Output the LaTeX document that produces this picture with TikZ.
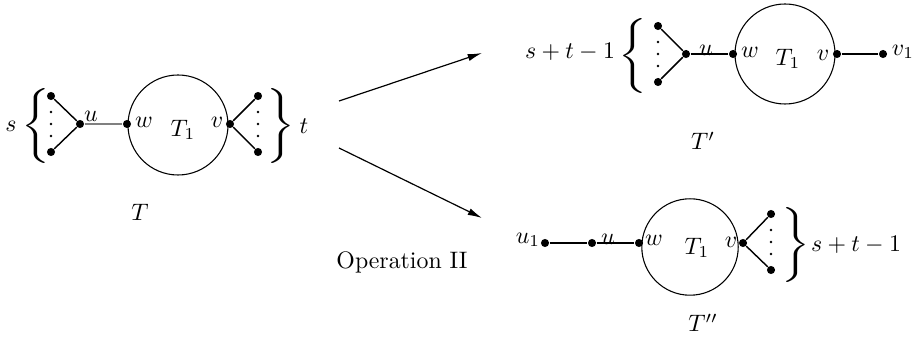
\documentclass[tikz,border=0pt]{standalone}
\usetikzlibrary{arrows.meta}
\newcommand{\lbrc}{\scalebox{1.5}[1.05]{$\Bigg\{$}}
\newcommand{\rbrc}{\scalebox{1.5}[1.05]{$\Bigg\}$}}
\begin{document}
\begin{tikzpicture}[x=0.42pt,y=-0.42pt,
  dot/.style={circle,fill=black,inner sep=0pt,minimum size=3.4pt},
  sdot/.style={circle,fill=black,inner sep=0pt,minimum size=1.2pt},
  lab/.style={inner sep=0pt},
  bigc/.style={draw,circle,inner sep=0pt,minimum size=42pt,line width=0.45pt},
  edge/.style={line width=0.6pt},
  arr/.style={line width=0.5pt,-{Latex[length=6pt,width=3pt]}}]
\useasboundingbox (0,0) rectangle (914,341);
% ---- T ----
\node[bigc] (c1) at (178,125) {};
\node[dot] (a1) at (51,96) {};
\node[dot] (a2) at (51,152) {};
\node[dot] (u) at (80,124) {};
\node[dot] (w) at (127,124) {};
\node[dot] (v) at (230,124) {};
\node[dot] (b1) at (258,96) {};
\node[dot] (b2) at (258,152) {};
\node[sdot] (d1) at (51,112) {};
\node[sdot] (d2) at (51,124) {};
\node[sdot] (d3) at (51,136) {};
\node[sdot] (e1) at (258,112) {};
\node[sdot] (e2) at (258,124) {};
\node[sdot] (e3) at (258,136) {};
\draw[edge] (a1) -- (u) -- (a2);
\draw[edge,gray] (u) -- (w);
\draw[edge] (b1) -- (v) -- (b2);
\node[lab] (bl) at (36,126) {\lbrc};
\node[lab] (sl) at (11,126) {$s$};
\node[lab] (br) at (281,126) {\rbrc};
\node[lab] (tl) at (304,126) {$t$};
\node[lab] (ul) at (91,116) {$u$};
\node[lab] (wl) at (144,122) {$w$};
\node[lab] (T1) at (183,130) {$T_1$};
\node[lab] (vl) at (217,122) {$v$};
\node[lab] (T) at (140,212) {$T$};
% ---- arrows ----
\coordinate (s1) at (339,101);
\coordinate (t1) at (482,53);
\coordinate (s2) at (339,148);
\coordinate (t2) at (482,218);
\draw[arr] (s1) -- (t1);
\draw[arr] (s2) -- (t2);
\node[lab] (op) at (402,262) {Operation II};
% ---- T' ----
\node[bigc] (c2) at (785,54) {};
\node[dot] (p1) at (658,26) {};
\node[dot] (p2) at (658,82) {};
\node[dot] (pu) at (686,54) {};
\node[dot] (pw) at (733,54) {};
\node[dot] (pv) at (837,54) {};
\node[dot] (pv1) at (883,54) {};
\node[sdot] (f1) at (658,42) {};
\node[sdot] (f2) at (658,54) {};
\node[sdot] (f3) at (658,66) {};
\draw[edge] (p1) -- (pu) -- (p2);
\draw[edge] (pu) -- (pw);
\draw[edge] (pv) -- (pv1);
\node[lab] (pbl) at (633,56) {\lbrc};
\node[lab] (pst) at (570,52) {$s+t-1$};
\node[lab] (pul) at (706,50) {$u$};
\node[lab] (pwl) at (750,52) {$w$};
\node[lab] (pT1) at (788,59) {$T_1$};
\node[lab] (pvl) at (823,55) {$v$};
\node[lab] (pv1l) at (903,52) {$v_1$};
\node[lab] (Tp) at (703,141) {$T'$};
% ---- T'' ----
\node[bigc,minimum size=40.5pt] (c3) at (690,247) {};
\node[dot] (qu1) at (545,243) {};
\node[dot] (qu) at (592,243) {};
\node[dot] (qw) at (639,243) {};
\node[dot] (qv) at (743,243) {};
\node[dot] (q1) at (771,214) {};
\node[dot] (q2) at (771,270) {};
\node[sdot] (g1) at (771,230) {};
\node[sdot] (g2) at (771,242) {};
\node[sdot] (g3) at (771,254) {};
\draw[edge] (qu1) -- (qu) -- (qw);
\draw[edge] (q1) -- (qv) -- (q2);
\node[lab] (qbr) at (796,245) {\rbrc};
\node[lab] (qst) at (856,245) {$s+t-1$};
\node[lab] (qu1l) at (528,240) {$u_1$};
\node[lab] (qul) at (608,239) {$u$};
\node[lab] (qwl) at (654,240) {$w$};
\node[lab] (qT1) at (697,248) {$T_1$};
\node[lab] (qvl) at (731,242) {$v$};
\node[lab] (Tpp) at (703,323) {$T''$};
\end{tikzpicture}
\end{document}
